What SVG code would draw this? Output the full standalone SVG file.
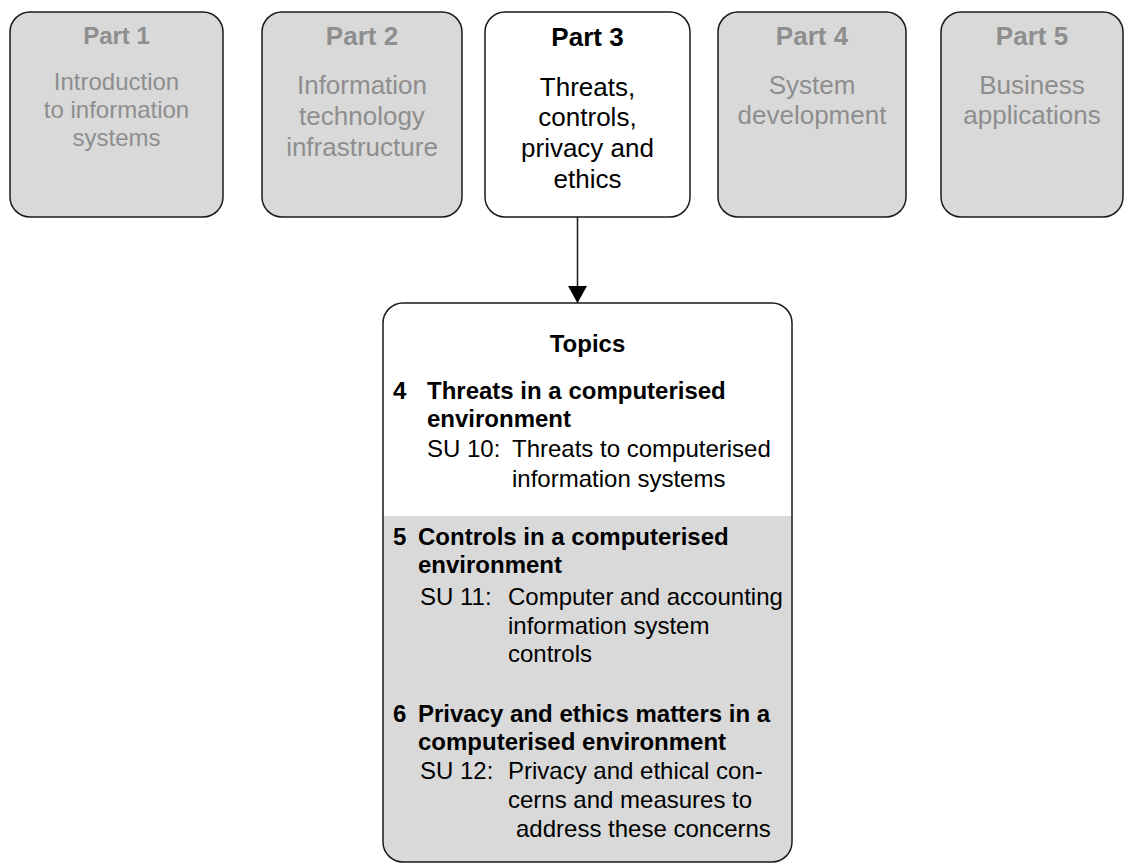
<svg xmlns="http://www.w3.org/2000/svg" width="1126" height="866" viewBox="0 0 1126 866">
<style>
.box{stroke:#1a1a1a;stroke-width:1.5}
.dim{fill:#d9d9d9}
.act{fill:#ffffff}
text{font-family:"Liberation Sans",Arial,sans-serif}
.hd{font-weight:bold;font-size:26px;text-anchor:middle}
.bd{font-size:26px;text-anchor:middle}
.sm{font-size:24px}
.gt{fill:#8e8e8e}
.kt{fill:#000000}
.tb{font-weight:bold;font-size:24px;fill:#000}
.tr{font-size:24px;fill:#000}
</style>
<defs>
<marker id="arr" markerWidth="17" markerHeight="19" refX="17" refY="9.5" orient="auto" markerUnits="userSpaceOnUse" viewBox="0 0 17 19">
<path d="M0,0 L17,9.5 L0,19 Z" fill="#000"/>
</marker>
</defs>
<rect width="1126" height="866" fill="#ffffff"/>

<g id="part1">
<rect class="box dim" x="10" y="12" width="213" height="205" rx="20"/>
<text class="hd gt sm" x="116.5" y="44">Part 1</text>
<text class="bd gt sm" x="116.5"><tspan x="116.5" y="90">Introduction</tspan><tspan x="116.5" y="118">to information</tspan><tspan x="116.5" y="146">systems</tspan></text>
</g>

<g id="part2">
<rect class="box dim" x="262" y="12" width="200" height="205" rx="20"/>
<text class="hd gt" x="362" y="45">Part 2</text>
<text class="bd gt" x="362"><tspan x="362" y="94">Information</tspan><tspan x="362" y="125">technology</tspan><tspan x="362" y="156">infrastructure</tspan></text>
</g>

<g id="part3">
<rect class="box act" x="485" y="12" width="205" height="205" rx="20"/>
<text class="hd kt" x="587.5" y="46">Part 3</text>
<text class="bd kt" x="587.5"><tspan x="587.5" y="96">Threats,</tspan><tspan x="587.5" y="126">controls,</tspan><tspan x="587.5" y="157">privacy and</tspan><tspan x="587.5" y="188">ethics</tspan></text>
</g>

<g id="part4">
<rect class="box dim" x="718" y="12" width="188" height="205" rx="20"/>
<text class="hd gt" x="812" y="45">Part 4</text>
<text class="bd gt" x="812"><tspan x="812" y="94">System</tspan><tspan x="812" y="124">development</tspan></text>
</g>

<g id="part5">
<rect class="box dim" x="941" y="12" width="182" height="205" rx="20"/>
<text class="hd gt" x="1032" y="45">Part 5</text>
<text class="bd gt" x="1032"><tspan x="1032" y="94">Business</tspan><tspan x="1032" y="124">applications</tspan></text>
</g>

<g id="connectors">
<line x1="577.5" y1="217" x2="577.5" y2="303" stroke="#1a1a1a" stroke-width="1.5" marker-end="url(#arr)"/>
</g>

<g id="topics">
<rect x="383" y="303" width="409" height="559" rx="20" fill="#ffffff"/>
<path d="M383,516 H792 V842 A20,20 0 0 1 772,862 H403 A20,20 0 0 1 383,842 Z" fill="#d9d9d9"/>
<rect class="box" x="383" y="303" width="409" height="559" rx="20" fill="none"/>
<text class="tb" x="587.5" y="352" text-anchor="middle">Topics</text>

<text class="tb" x="393" y="399">4</text>
<text class="tb" x="427" y="399">Threats in a computerised</text>
<text class="tb" x="427" y="427">environment</text>
<text class="tr" x="427" y="457">SU 10:</text>
<text class="tr" x="512" y="457">Threats to computerised</text>
<text class="tr" x="512" y="487">information systems</text>

<text class="tb" x="393" y="545">5</text>
<text class="tb" x="418" y="545">Controls in a computerised</text>
<text class="tb" x="418" y="573">environment</text>
<text class="tr" x="420" y="605">SU 11:</text>
<text class="tr" x="508" y="605">Computer and accounting</text>
<text class="tr" x="508" y="634">information system</text>
<text class="tr" x="508" y="662">controls</text>

<text class="tb" x="393" y="722">6</text>
<text class="tb" x="418" y="722">Privacy and ethics matters in a</text>
<text class="tb" x="418" y="750">computerised environment</text>
<text class="tr" x="420" y="779">SU 12:</text>
<text class="tr" x="508" y="779">Privacy and ethical con-</text>
<text class="tr" x="508" y="808">cerns and measures to</text>
<text class="tr" x="516" y="837">address these concerns</text>
</g>
</svg>
